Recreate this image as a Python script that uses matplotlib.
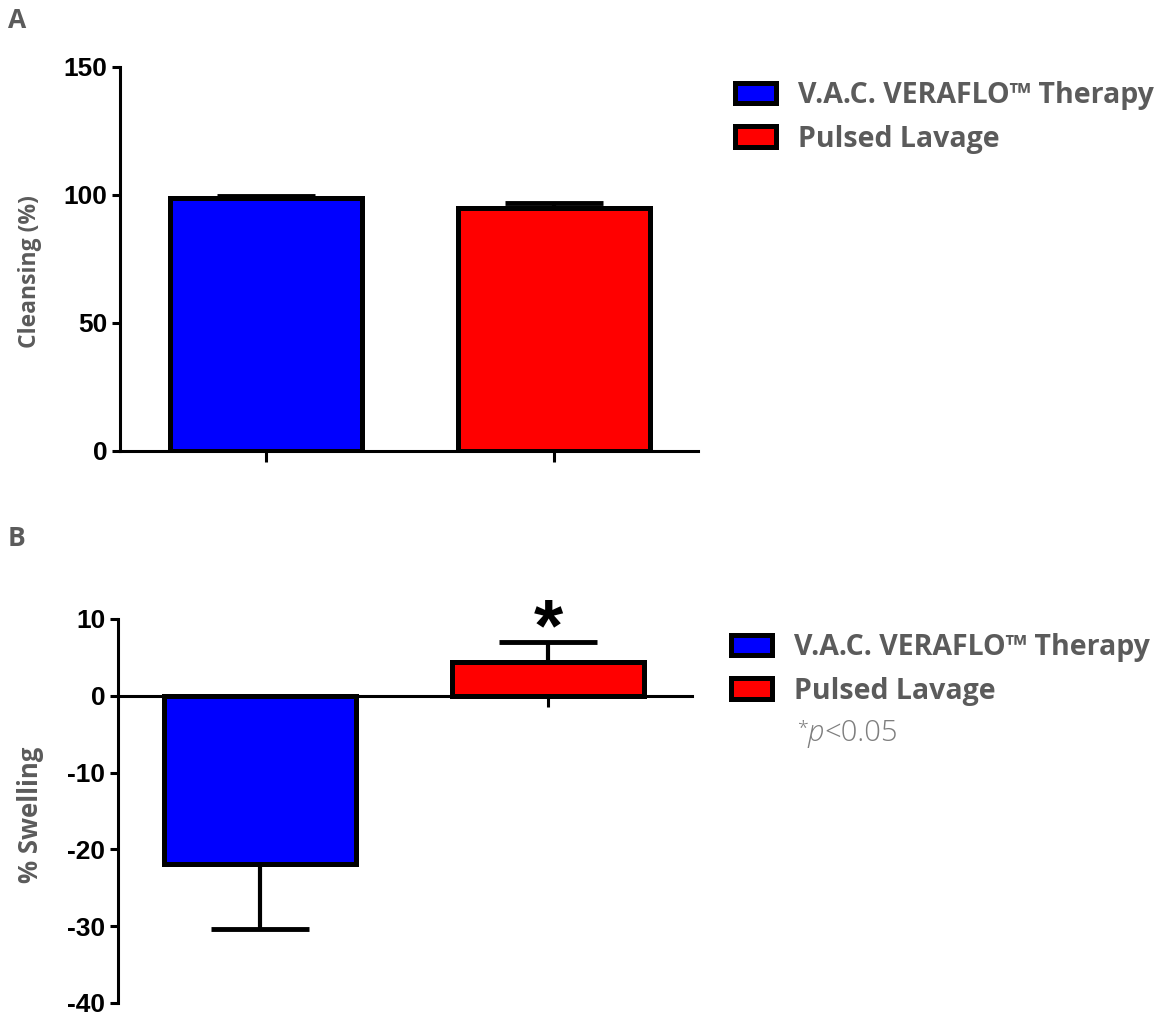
import matplotlib
matplotlib.use("Agg")
import matplotlib.pyplot as plt
from matplotlib.patches import Patch

plt.rcParams["axes.unicode_minus"] = False

# ---- data ----
groups = ["V.A.C. VERAFLO\u2122 Therapy", "Pulsed Lavage"]
colors = ["#0000ff", "#ff0000"]
cleansing = [98.8, 94.9]
cleansing_err = [0.8, 2.0]
swelling = [-21.9, 4.4]
swelling_err = [8.5, 2.6]
a_ticks = [0, 50, 100, 150]
b_ticks = [-40, -30, -20, -10, 0, 10]

LABEL_FONT = ["Open Sans", "DejaVu Sans"]
GREY = "#5b5b5b"
W, H = 1166, 1019

fig = plt.figure(figsize=(11.66, 10.19), dpi=100)

axA = fig.add_axes([120/W, 1-451/H, 578/W, 384/H])
axB = fig.add_axes([118/W, 1-1003/H, 574/W, 384/H])

x = [0, 1]
bw = 0.67

def style(ax):
    for s in ["top", "right"]:
        ax.spines[s].set_visible(False)
    for s in ["left", "bottom"]:
        ax.spines[s].set_linewidth(2.2)
    ax.tick_params(axis="y", length=6, width=2.2, labelsize=19, pad=3)
    ax.tick_params(axis="x", length=8, width=2.2, labelbottom=False)
    for lab in ax.get_yticklabels():
        lab.set_fontweight("bold")
        lab.set_family(["Liberation Sans", "DejaVu Sans"])

# Panel A
for i in range(2):
    axA.bar(x[i], cleansing[i], width=bw, color=colors[i], edgecolor="black",
            linewidth=3.6, zorder=2)
    axA.errorbar(x[i], cleansing[i], yerr=[[0], [cleansing_err[i]]], fmt="none",
                 ecolor="black", elinewidth=3, capsize=35, capthick=3.5, zorder=1)
axA.set_xlim(-0.507, 1.5)
axA.set_ylim(0, 150)
axA.set_yticks(a_ticks)
axA.set_xticks(x)
style(axA)

# Panel B
for i in range(2):
    axB.bar(x[i], swelling[i], width=bw, color=colors[i], edgecolor="black",
            linewidth=3.6, zorder=2)
    yerr = [[0], [swelling_err[i]]] if swelling[i] > 0 else [[swelling_err[i]], [0]]
    axB.errorbar(x[i], swelling[i], yerr=yerr, fmt="none",
                 ecolor="black", elinewidth=3, capsize=35, capthick=3.5, zorder=1)
axB.set_xlim(-0.493, 1.5)
axB.set_ylim(-40, 10)
axB.set_yticks(b_ticks)
axB.set_xticks(x)
style(axB)
axB.spines["bottom"].set_position(("data", 0))
axB.text(x[1], swelling[1] + swelling_err[1] - 1.1, "*", ha="center", va="baseline",
         fontsize=54, fontweight="bold", family=["Liberation Sans", "DejaVu Sans"])

# y labels
fig.text(30/W, 1-272/H, "Cleansing (%)", rotation=90, ha="center", va="center",
         fontsize=16.5, fontweight="bold", color=GREY, family=LABEL_FONT)
fig.text(31/W, 1-815/H, "% Swelling", rotation=90, ha="center", va="center",
         fontsize=18.5, fontweight="bold", color=GREY, family=LABEL_FONT)

# Legends
handles = [Patch(facecolor=c, edgecolor="black", linewidth=3.6) for c in colors]
for anchor in [(735/W, 1-81/H), (731/W, 1-633/H)]:
    leg = fig.legend(handles, groups, loc="upper left", bbox_to_anchor=anchor,
                     frameon=False, prop={"family": LABEL_FONT, "weight": "bold", "size": 20.5},
                     handlelength=1.45, handleheight=0.75, labelspacing=0.52,
                     handletextpad=0.75, borderpad=0, borderaxespad=0)
    for t in leg.get_texts():
        t.set_color(GREY)

# *p<0.05 note
fig.canvas.draw()
r = fig.canvas.get_renderer()
px, py = 797, 1 - 733 / H
parts = [("*", "normal", 14), ("p", "italic", 21), ("<0.05", "normal", 21)]
xpos = px
for s, st, fs in parts:
    t = fig.text(xpos / W, py if s != "*" else py + 5 / H, s, fontsize=fs, style=st,
                 color="#7e7e7e", va="center", family=LABEL_FONT, fontweight="light")
    bb = t.get_window_extent(r)
    xpos += bb.width

fig.text(8/W, 1-20/H, "A", fontsize=19, fontweight="bold", color=GREY,
         family=LABEL_FONT, va="center")
fig.text(8/W, 1-539/H, "B", fontsize=19, fontweight="bold", color=GREY,
         family=LABEL_FONT, va="center")

fig.savefig("out.png", dpi=100)
